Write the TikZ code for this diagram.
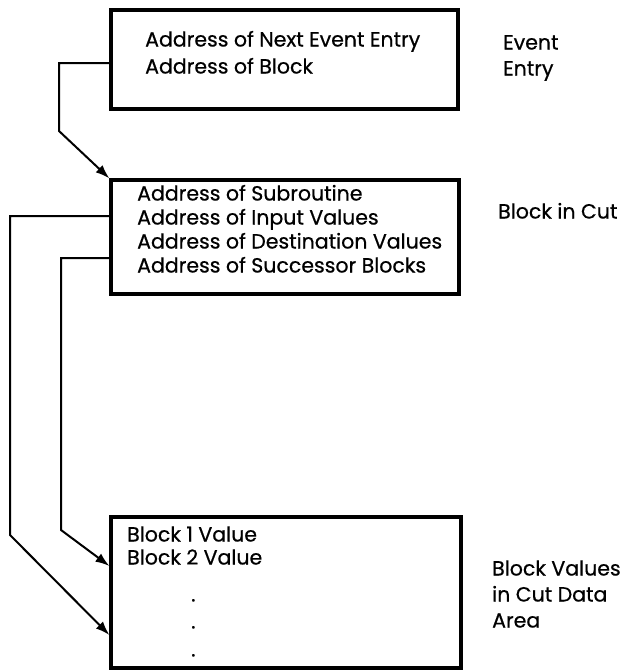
\documentclass[tikz,border=0pt]{standalone}
\usepackage{fontspec}
\setmainfont{Poppins}[FakeBold=0.6]
\usetikzlibrary{arrows.meta,fit}

\tikzset{
  recbox/.style={draw, line width=3.2pt, inner sep=0pt},
  txt/.style={anchor=west, inner sep=0pt, text height=0.7em, text depth=0pt,
              font=\fontsize{20.5}{24}\selectfont},
  conn/.style={line width=2pt, -{Latex[length=14pt,width=10pt]}},
}

\begin{document}
\begin{tikzpicture}[x=1pt, y=-1pt]
  \useasboundingbox (0,0) rectangle (628,672);

  % record boxes
  \node[recbox, fit={(111,10) (458,109)}] (entry) {};
  \node[recbox, fit={(111,180) (459,294)}] (cut) {};
  \node[recbox, fit={(111,517) (461,668)}] (vals) {};

  % event entry
  \node[txt] (e1) at (145,43) {Address of Next Event Entry};
  \node[txt] (e2) at (145,70) {Address of Block};
  \node[txt] (el1) at (503,46) {Event};
  \node[txt] (el2) at (503,72) {Entry};

  % block in cut
  \node[txt] (b1) at (137,197) {Address of Subroutine};
  \node[txt] (b2) at (137,221) {Address of Input Values};
  \node[txt] (b3) at (137,245) {Address of Destination Values};
  \node[txt] (b4) at (137,269) {Address of Successor Blocks};
  \node[txt] (bl) at (498,215) {Block in Cut};

  % block values
  \node[txt] (v1) at (127,538) {Block 1 Value};
  \node[txt] (v2) at (127,561) {Block 2 Value};
  \node[txt] (d1) at (191,598) {.};
  \node[txt] (d2) at (191,625) {.};
  \node[txt] (d3) at (191,653) {.};
  \node[txt] (vl1) at (492,572) {Block Values};
  \node[txt] (vl2) at (492,598) {in Cut Data};
  \node[txt] (vl3) at (492,624) {Area};

  % pointers
  \draw[conn] (entry.west |- 0,63) -| (59,131) -- (cut.north west);
  \draw[conn] (cut.west |- 0,216) -| (10,535) -- (vals.west |- 0,635);
  \draw[conn] (cut.west |- 0,258) -| (61,530) -- (vals.west |- 0,566);
\end{tikzpicture}
\end{document}
